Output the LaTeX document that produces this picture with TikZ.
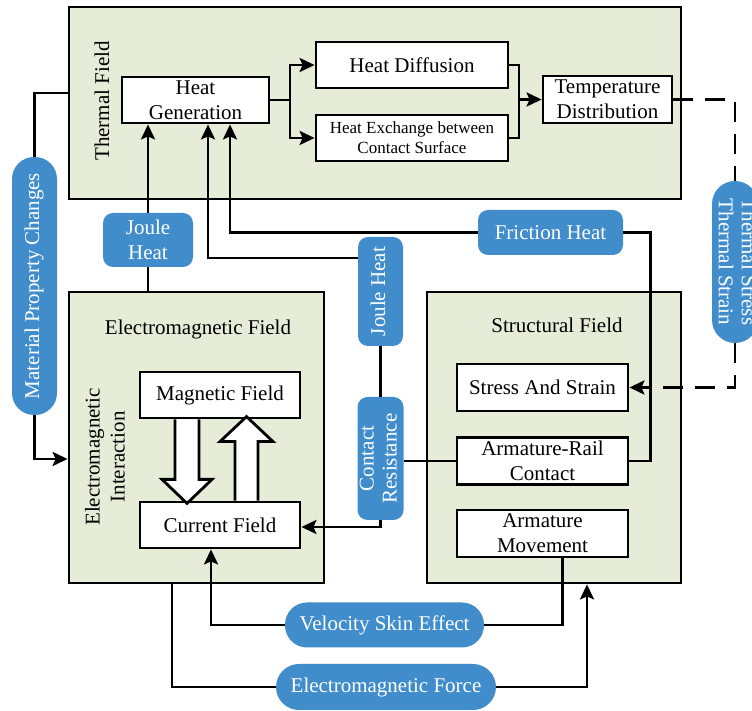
\documentclass[tikz,border=0pt]{standalone}
\usepackage{fontspec}
\setmainfont{Liberation Serif}
\usetikzlibrary{arrows.meta}
\definecolor{fieldgreen}{RGB}{229,236,216}
\definecolor{tagblue}{RGB}{65,141,204}
\tikzstyle{field}=[draw, line width=1.4pt, fill=fieldgreen, inner sep=0pt]
\tikzstyle{block}=[draw, line width=1.4pt, fill=white, align=center, inner sep=1pt]
\tikzstyle{tag}=[fill=tagblue, text=white, align=center, inner sep=0pt, rounded corners=5pt]
\tikzstyle{pill}=[fill=tagblue, text=white, align=center, inner sep=0pt, rounded corners=11pt]
\tikzstyle{link}=[line width=1.4pt]
\tikzstyle{dashlink}=[line width=1.4pt, dash pattern=on 10pt off 6pt]
\tikzstyle{fat}=[draw, fill=white, line width=1.4pt]
\newcommand{\upright}[1]{\rotatebox{90}{\fontsize{10.5}{11.5}\selectfont\begin{tabular}{@{}c@{}}#1\end{tabular}}}
\newcommand{\downright}[1]{\rotatebox{-90}{\fontsize{10.5}{11.5}\selectfont\begin{tabular}{@{}c@{}}#1\end{tabular}}}

\begin{document}
\begin{tikzpicture}[x=0.5pt, y=-0.5pt, font=\fontsize{10.5}{12.5}\selectfont,
    >={Stealth[length=7.5pt, width=7pt, inset=1.5pt]}]
      \useasboundingbox (0, 0) rectangle (752, 711);

      \node[field, minimum width=306pt, minimum height=96pt] (thermal) at (375, 103) {};
      \node[field, minimum width=127.5pt, minimum height=145.5pt] (em_field) at (196.5, 437.5) {};
      \node[field, minimum width=127pt, minimum height=145.5pt] (struct_field) at (554, 437.5) {};

      \node[rotate=90] (thermal_label) at (102, 101) {Thermal Field};
      \node (em_label) at (198, 329) {Electromagnetic Field};
      \node (struct_label) at (557, 325) {Structural Field};
      \node[rotate=90, align=center] (emi_label) at (105, 457) {Electromagnetic\\Interaction};

      \node[block, minimum width=73.5pt, minimum height=23pt] (heat_gen) at (195.5, 100) {Heat\\Generation};
      \node[block, minimum width=96pt, minimum height=23pt] (heat_diff) at (412, 65) {Heat Diffusion};
      \node[block, minimum width=96pt, minimum height=23pt, font=\fontsize{8.5}{10}\selectfont]
        (heat_exch) at (412, 138) {Heat Exchange between\\Contact Surface};
      \node[block, minimum width=64.5pt, minimum height=23.5pt] (temp_dist) at (607.5, 99.5)
        {Temperature\\Distribution};
      \node[block, minimum width=80pt, minimum height=23pt] (mag_field) at (220, 395) {Magnetic Field};
      \node[block, minimum width=80pt, minimum height=23pt] (cur_field) at (220, 525) {Current Field};
      \node[block, minimum width=85.5pt, minimum height=23.5pt] (stress_strain) at (542.5, 387.5)
        {Stress And Strain};
      \node[block, minimum width=85.5pt, minimum height=23.5pt] (ar_contact) at (542.5, 461)
        {Armature-Rail\\Contact};
      \node[block, minimum width=85.5pt, minimum height=23.5pt] (arm_move) at (542.5, 533.5)
        {Armature\\Movement};

      \node[pill, minimum width=22.5pt, minimum height=129pt] (mat_prop) at (34.5, 286)
        {\upright{Material Property Changes}};
      \node[tag, minimum width=45pt, minimum height=27pt] (joule_left) at (148, 240) {Joule\\Heat};
      \node[tag, minimum width=22.5pt, minimum height=54.5pt] (joule_vert) at (380.5, 291.5)
        {\upright{Joule Heat}};
      \node[tag, minimum width=22.5pt, minimum height=61.5pt] (contact_res) at (380.5, 458.5)
        {\upright{Contact\\Resistance}};
      \node[tag, minimum width=72.5pt, minimum height=22.5pt] (friction) at (550.5, 232.5) {Friction Heat};
      \node[pill, minimum width=99.5pt, minimum height=22.5pt] (vel_skin) at (384.5, 625) {Velocity Skin Effect};
      \node[pill, minimum width=110pt, minimum height=23pt, rounded corners=11.5pt] (em_force) at (386, 687)
        {Electromagnetic Force};
      \node[pill, minimum width=23pt, minimum height=81pt, rounded corners=11.5pt] (th_stress) at (735, 262)
        {\downright{Thermal Stress\\Thermal Strain}};

      \coordinate (split) at (290, 100);
      \coordinate (merge) at (519, 99.5);
      \draw[link] (heat_gen.east) -- (split);
      \draw[link, ->] (split) |- (heat_diff.west);
      \draw[link, ->] (split) |- (heat_exch.west);
      \draw[link] (heat_diff.east) -| (merge);
      \draw[link] (heat_exch.east) -| (merge);
      \draw[link, ->] (merge) -- (temp_dist.west);

      \draw[dashlink] (temp_dist.east) -| (th_stress.north);
      \draw[dashlink, ->] (th_stress.south) |- (stress_strain.east);

      \draw[link] (mat_prop.north) |- ([yshift=5pt]thermal.west);
      \draw[link, ->] (mat_prop.south) |- ([yshift=-10.75pt]em_field.west);

      \draw[link, ->] (joule_left.north) -- (joule_left.north |- heat_gen.south);
      \draw[link] (joule_left.south) -- (joule_left.south |- em_field.north);
      \draw[link, ->] ([yshift=16.75pt]joule_vert.west) -| ([xshift=6.25pt]heat_gen.south);
      \draw[link, ->] (friction.west) -| ([xshift=17.25pt]heat_gen.south);
      \draw[link] (joule_vert.south) -- (contact_res.north);
      \draw[link] (contact_res.east |- ar_contact.west) -- (ar_contact.west);
      \draw[link, ->] (contact_res.south) |- ([yshift=-1pt]cur_field.east);
      \draw[link] (friction.east) -- ++(27, 0) |- (ar_contact.east);
      \draw[link] ([xshift=10pt]arm_move.south) |- (vel_skin.east);
      \draw[link, ->] (vel_skin.west) -| ([xshift=-4.5pt]cur_field.south);
      \draw[link] (em_force.west) -| ([xshift=-12.25pt]em_field.south);
      \draw[link, ->] (em_force.east) -| ([xshift=16.5pt]struct_field.south);

      \draw[fat] ([xshift=-22.5pt]mag_field.south) -- ++(0, 60) -- ++(-13, 0) -- ++(25, 24)
        -- ++(25, -24) -- ++(-13, 0) -- ++(0, -60);
      \draw[fat] ([xshift=7.5pt]cur_field.north) -- ++(0, -59) -- ++(-15, 0) -- ++(26.5, -25)
        -- ++(26.5, 25) -- ++(-15, 0) -- ++(0, 59);
    \end{tikzpicture}
\end{document}
